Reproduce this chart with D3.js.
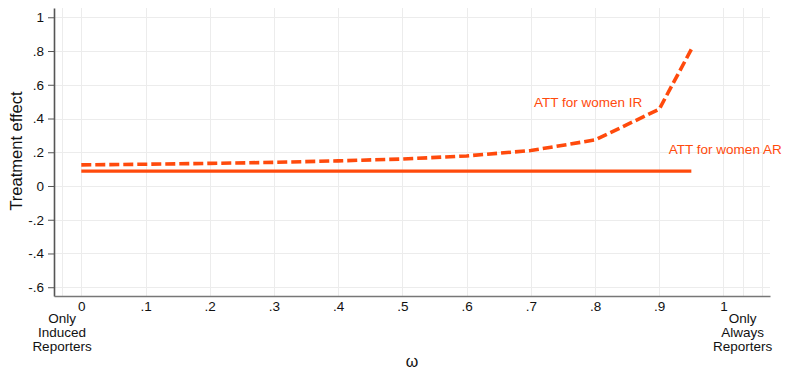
<!DOCTYPE html>
<html>
<head>
<meta charset="utf-8">
<script src="https://cdn.jsdelivr.net/npm/d3@7"></script>
<style>
  html, body { margin: 0; padding: 0; background: #fff; }
  svg { display: block; font-family: "Liberation Sans", Arial, Helvetica, sans-serif; }
</style>
</head>
<body>
<svg id="chart" width="785" height="372"></svg>
<script>
// Share of always reporters (omega) on the x axis
const omega = [0, 0.1, 0.2, 0.3, 0.4, 0.5, 0.6, 0.7, 0.8, 0.9, 0.95];
// ATT for women, induced reporters (dashed)
const attIR = [0.125, 0.129, 0.134, 0.140, 0.149, 0.160, 0.178, 0.210, 0.273, 0.455, 0.810];
// ATT for women, always reporters (solid)
const attAR = [0.088, 0.088, 0.088, 0.088, 0.088, 0.088, 0.088, 0.088, 0.088, 0.088, 0.088];

const yTicks = [1, 0.8, 0.6, 0.4, 0.2, 0, -0.2, -0.4, -0.6];
const yTickLabels = ["1", ".8", ".6", ".4", ".2", "0", "-.2", "-.4", "-.6"];
const xTicks = [0, 0.1, 0.2, 0.3, 0.4, 0.5, 0.6, 0.7, 0.8, 0.9, 1];
const xTickLabels = ["0", ".1", ".2", ".3", ".4", ".5", ".6", ".7", ".8", ".9", "1"];
const xExtraGrid = [-0.03, 1.03, 1.06];
const endLabels = [
  { at: -0.03, lines: ["Only", "Induced", "Reporters"] },
  { at: 1.03, lines: ["Only", "Always", "Reporters"] }
];
const seriesLabels = [
  { text: "ATT for women IR", x: 0.705, y: 0.468 },
  { text: "ATT for women AR", x: 0.915, y: 0.187 }
];

const color = "#ff4a0c";
const svg = d3.select("#chart");

const x = d3.scaleLinear().domain([-0.0425, 1.0725]).range([54, 770]);
const y = d3.scaleLinear().domain([-0.652, 1.055]).range([296, 8]);

// Grid
const grid = svg.append("g").attr("stroke", "#ececec").attr("stroke-width", 1);
grid.selectAll("line.h").data(yTicks).join("line")
  .attr("class", "h")
  .attr("x1", x.range()[0]).attr("x2", x.range()[1])
  .attr("y1", d => Math.round(y(d)) + 0.5).attr("y2", d => Math.round(y(d)) + 0.5);
grid.selectAll("line.v").data(xTicks.concat(xExtraGrid)).join("line")
  .attr("class", "v")
  .attr("y1", y.range()[0]).attr("y2", y.range()[1])
  .attr("x1", d => Math.round(x(d)) + 0.5).attr("x2", d => Math.round(x(d)) + 0.5);

// Y axis
const yAxis = d3.axisLeft(y)
  .tickValues(yTicks)
  .tickFormat((d, i) => yTickLabels[i])
  .tickSize(6)
  .tickSizeOuter(0)
  .tickPadding(4);
const gy = svg.append("g").attr("transform", "translate(54,0)").call(yAxis);
gy.select(".domain").attr("stroke", "#555").attr("stroke-width", 1.6);
gy.selectAll(".tick line").attr("stroke", "#555");
gy.selectAll(".tick text").attr("font-size", 13.5).attr("fill", "#111")
  .attr("font-family", "'Liberation Sans', Arial, sans-serif");

// X axis
const xAxis = d3.axisBottom(x)
  .tickValues(xTicks)
  .tickFormat((d, i) => xTickLabels[i])
  .tickSize(0)
  .tickSizeOuter(0)
  .tickPadding(5);
const gx = svg.append("g").attr("transform", "translate(0,296)").call(xAxis);
gx.select(".domain").attr("stroke", "#777").attr("stroke-width", 1.6);
gx.selectAll(".tick text").attr("font-size", 13.5).attr("fill", "#111")
  .attr("font-family", "'Liberation Sans', Arial, sans-serif");

// Descriptive labels at the two ends of the omega range
endLabels.forEach(lab => {
  const t = svg.append("text")
    .attr("x", x(lab.at)).attr("y", 323)
    .attr("text-anchor", "middle")
    .attr("font-size", 13.5).attr("fill", "#111");
  lab.lines.forEach((ln, i) => {
    t.append("tspan").attr("x", x(lab.at)).attr("dy", i === 0 ? 0 : 13.8).text(ln);
  });
});

// Axis titles
svg.append("text")
  .attr("transform", "translate(22,151) rotate(-90)")
  .attr("text-anchor", "middle")
  .attr("font-size", 16.5).attr("fill", "#111")
  .text("Treatment effect");
svg.append("text")
  .attr("x", (x.range()[0] + x.range()[1]) / 2).attr("y", 367)
  .attr("text-anchor", "middle")
  .attr("font-size", 16).attr("fill", "#111")
  .text("ω");

// Series
const line = d3.line().x(d => x(d[0])).y(d => y(d[1]));
svg.append("path")
  .datum(omega.map((o, i) => [o, attAR[i]]))
  .attr("d", line)
  .attr("fill", "none").attr("stroke", color).attr("stroke-width", 3.2);
svg.append("path")
  .datum(omega.map((o, i) => [o, attIR[i]]))
  .attr("d", line)
  .attr("fill", "none").attr("stroke", color).attr("stroke-width", 3.6)
  .attr("stroke-dasharray", "10,4");

// Series labels
svg.selectAll("text.series").data(seriesLabels).join("text")
  .attr("class", "series")
  .attr("x", d => x(d.x)).attr("y", d => y(d.y))
  .attr("font-size", 13.5).attr("fill", color)
  .text(d => d.text);
</script>
</body>
</html>
